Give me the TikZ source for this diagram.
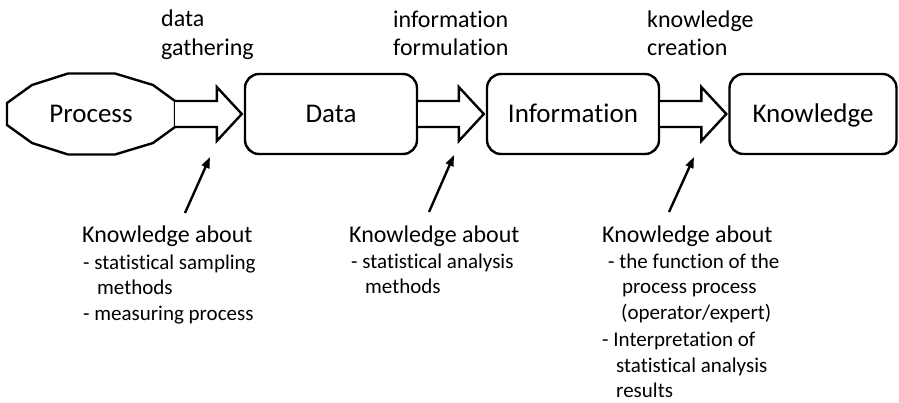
\documentclass[tikz,border=0pt]{standalone}
\usepackage{fontspec}
\setmainfont{Carlito}[Ligatures={NoCommon,NoContextual}]
\usetikzlibrary{calc,arrows.meta}

% hollow block arrow from the east side of #1 to the west side of #2
\newcommand\blockarrow[2]{%
  \draw[bigarrow]
    ($(#1.east)+(0,-13)$) -- ($(#2.west)+(-27,-13)$) -- ($(#2.west)+(-27,-27)$)
    -- ($(#2.west)+(-2,0)$)
    -- ($(#2.west)+(-27,27)$) -- ($(#2.west)+(-27,13)$) -- ($(#1.east)+(0,13)$);}

\begin{document}
\begin{tikzpicture}[x=1pt,y=-1pt,
  boxtext/.style={inner sep=0pt,text height=20pt,text depth=3pt,
    font=\fontsize{27}{32}\selectfont},
  box/.style={boxtext,draw,line width=2.4pt,rounded corners=14pt,minimum height=80pt},
  bigarrow/.style={draw,line width=2.4pt,fill=white,line join=miter},
  pointer/.style={line width=2.4pt,-{Triangle[length=11pt,width=8pt]}},
  steplabel/.style={anchor=base west,inner sep=0pt,font=\fontsize{24}{29}\selectfont},
  headline/.style={anchor=base west,inner sep=0pt,font=\fontsize{24}{29}\selectfont},
  itemline/.style={anchor=base west,inner sep=0pt,font=\fontsize{21}{26}\selectfont}]

\useasboundingbox (0,0) rectangle (899,402);

% process (twelve-sided outline) and the three result boxes
\node[boxtext,minimum width=168pt,minimum height=81pt] (proc) at (91,114) {Process};
\draw[line width=2.4pt,line join=miter]
  ($(proc.center)+(-84,-11)$) -- ($(proc.center)+(-59,-29)$)
  -- ($(proc.center)+(-23,-40.5)$) -- ($(proc.center)+(24,-40.5)$)
  -- ($(proc.center)+(62,-29)$) -- ($(proc.center)+(84,-13)$)
  -- ($(proc.center)+(84,13)$) -- ($(proc.center)+(62,29)$)
  -- ($(proc.center)+(24,40.5)$) -- ($(proc.center)+(-23,40.5)$)
  -- ($(proc.center)+(-59,29)$) -- ($(proc.center)+(-84,11)$) -- cycle;

\node[box,minimum width=172pt] (data) at (331,114) {Data};
\node[box,minimum width=172pt] (info) at (573,114) {Information};
\node[box,minimum width=167pt] (know) at (813,114) {Knowledge};

\blockarrow{proc}{data}
\blockarrow{data}{info}
\blockarrow{info}{know}

% step labels above the block arrows
\node[steplabel] (s1a) at (161,26) {data};
\node[steplabel] (s1b) at (161,55) {gathering};
\node[steplabel] (s2a) at (393,27) {information};
\node[steplabel] (s2b) at (393,55) {formulation};
\node[steplabel] (s3a) at (647,27) {knowledge};
\node[steplabel] (s3b) at (647,55) {creation};

% pointers from the knowledge notes to the steps
\coordinate (p1a) at (185,213); \coordinate (p1b) at (210,157);
\coordinate (p2a) at (429,212); \coordinate (p2b) at (454,155);
\coordinate (p3a) at (669,212); \coordinate (p3b) at (694,157);
\draw[pointer] (p1a) -- (p1b);
\draw[pointer] (p2a) -- (p2b);
\draw[pointer] (p3a) -- (p3b);

% notes below
\node[headline] (k1) at (82,242) {Knowledge about};
\node[itemline] (k1a) at (83,269) {- statistical sampling};
\node[itemline] (k1b) at (97,294) {methods};
\node[itemline] (k1c) at (83,320) {- measuring process};

\node[headline] (k2) at (349,242) {Knowledge about};
\node[itemline] (k2a) at (351,268) {- statistical analysis};
\node[itemline] (k2b) at (365,293) {methods};

\node[headline] (k3) at (602,242) {Knowledge about};
\node[itemline] (k3a) at (608,268) {- the function of the};
\node[itemline] (k3b) at (622,293) {process process};
\node[itemline] (k3c) at (621,319) {(operator/expert)};
\node[itemline] (k3d) at (602,346) {- Interpretation of};
\node[itemline] (k3e) at (616,372) {statistical analysis};
\node[itemline] (k3f) at (616,397) {results};

\end{tikzpicture}
\end{document}
